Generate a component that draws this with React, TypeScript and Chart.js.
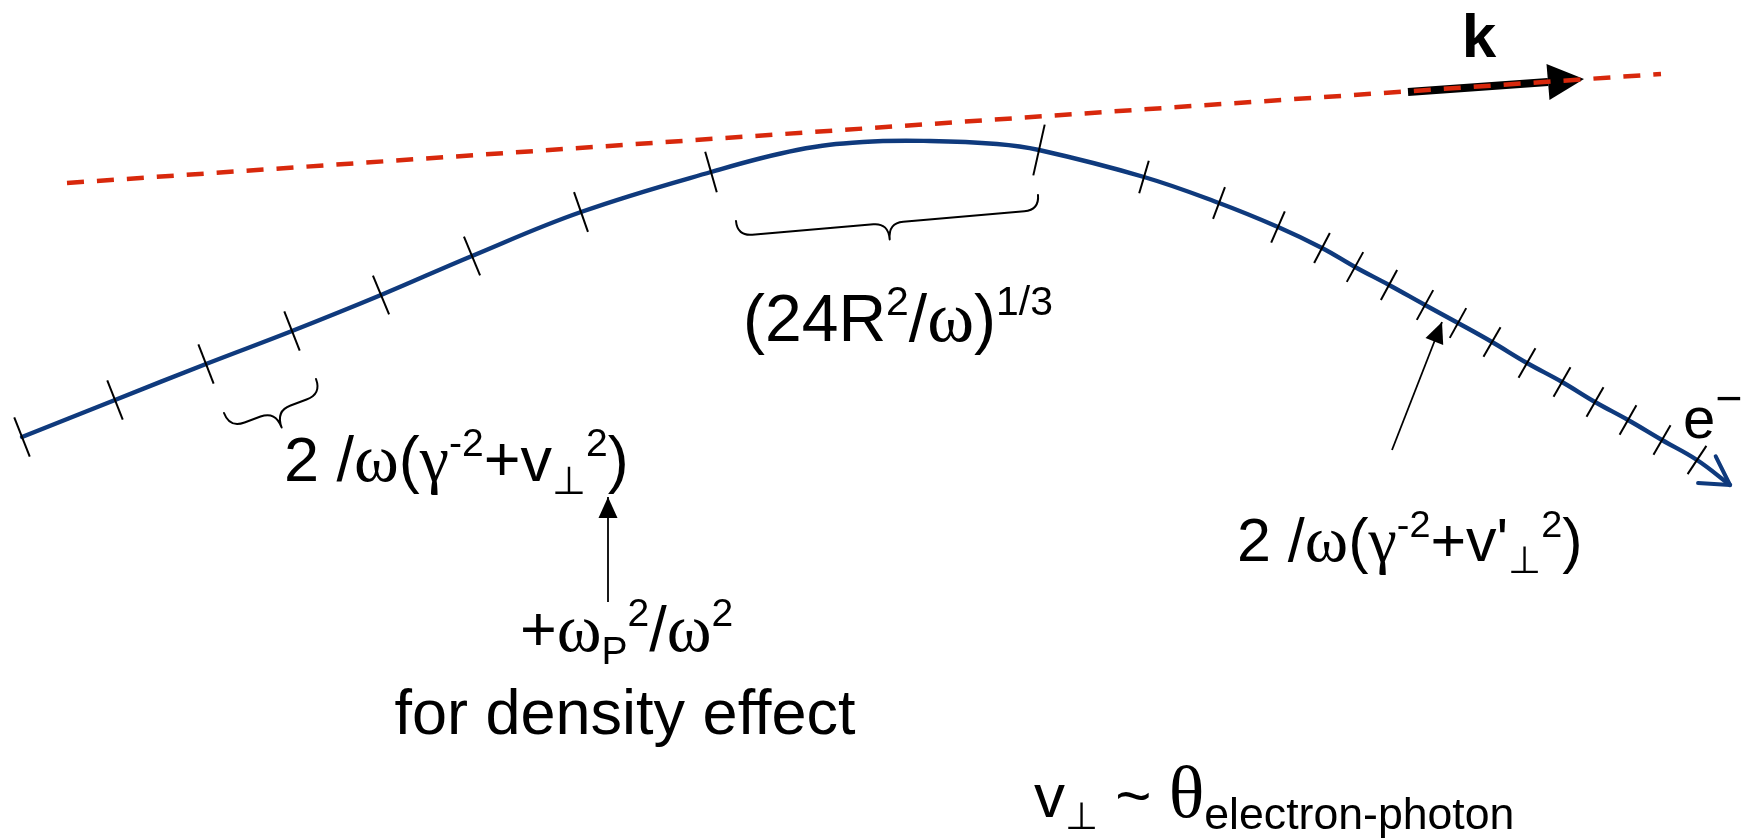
import React, { useEffect, useRef } from "react";
import { Chart, registerables } from "chart.js";

Chart.register(...registerables);

const CANVAS_W = 1744;
const CANVAS_H = 839;

// Electron trajectory (e−): points along the path, x to the right, y downward
const electronX = [22, 115, 206, 292, 381, 472, 581, 711, 797, 863, 930, 997, 1039, 1144, 1219, 1278, 1322, 1355, 1389, 1425, 1458, 1492, 1527, 1562, 1595, 1628, 1662, 1697, 1730];
const electronY = [437, 400, 364, 331, 295, 256, 212, 172, 150, 142, 141, 144, 150, 177, 203, 227, 248, 267, 285, 305, 323, 342, 363, 382, 402, 420, 440, 460, 485];
// 1 = a formation-length tick sits on this point
const electronTick = [1, 1, 1, 1, 1, 1, 1, 1, 0, 0, 0, 0, 1, 1, 1, 1, 1, 1, 1, 1, 1, 1, 1, 1, 1, 1, 1, 1, 0];

// Photon direction k (dashed line)
const photonX = [67, 1661];
const photonY = [183, 74];

// k vector: shaft and arrow tip
const kShaftX = [1408, 1548];
const kShaftY = [92, 82];
const kTip = [1584, 79];

// Braces: from point, to point
const braceFromX = [224, 736];
const braceFromY = [413, 221];
const braceToX = [316, 1038];
const braceToY = [379, 195];

// Annotation arrows: from (tail) to (tip)
const noteFromX = [608, 1392];
const noteFromY = [602, 450];
const noteToX = [608, 1442];
const noteToY = [497, 322];

// Text labels
const labelTexts = [
  "k",
  "(24R²/ω)^1/3",
  "2 /ω(γ^-2+v_⊥^2)",
  "2 /ω(γ^-2+v'_⊥^2)",
  "+ω_P^2/ω^2",
  "for density effect",
  "e^−",
  "v_⊥ ~ θ_electron-photon",
];
const labelX = [1479, 743, 284, 1237, 520, 625, 1683, 1034];
const labelY = [57, 341, 481, 561, 651, 734, 438, 817];

const BLUE = "#0F3A7D";
const RED = "#D8280C";
const SANS = '"Liberation Sans", Arial, Helvetica, sans-serif';
const SERIF = '"Liberation Serif", "Times New Roman", serif';

type Seg = { t: string; f?: "sans" | "serif" | "bold"; s?: number; dy?: number };
const SUP = { s: 0.62, dy: -0.4 };
const SUB = { s: 0.62, dy: 0.2 };
const OMEGA: Seg = { t: "ω", f: "serif", s: 1.08 };

const richLabels: Seg[][] = [
  [{ t: labelTexts[0], f: "bold" }],
  [{ t: "(24R" }, { t: "2", ...SUP }, { t: "/" }, OMEGA, { t: ")" }, { t: "1/3", ...SUP }],
  [{ t: "2 /" }, OMEGA, { t: "(" }, { t: "γ", f: "serif", s: 1.05 }, { t: "-2", ...SUP }, { t: "+v" }, { t: "⊥", ...SUB }, { t: "2", ...SUP }, { t: ")" }],
  [{ t: "2 /" }, OMEGA, { t: "(" }, { t: "γ", f: "serif", s: 1.05 }, { t: "-2", ...SUP }, { t: "+v'" }, { t: "⊥", ...SUB }, { t: "2", ...SUP }, { t: ")" }],
  [{ t: "+" }, OMEGA, { t: "P", ...SUB }, { t: "2", ...SUP }, { t: "/" }, OMEGA, { t: "2", ...SUP }],
  [{ t: labelTexts[5] }],
  [{ t: "e" }, { t: "−", s: 0.8, dy: -0.42 }],
  [{ t: "v" }, { t: "⊥", ...SUB }, { t: " ~ " }, { t: "θ", f: "serif", s: 1.2 }, { t: "electron-photon", s: 0.72, dy: 0.2 }],
];
const labelSize = [62, 66, 63, 61, 63, 63, 58, 62];
const labelAlign: ("left" | "center")[] = ["center", "left", "left", "left", "left", "center", "left", "left"];

function fontFor(f: Seg["f"], size: number) {
  if (f === "serif") return `${size}px ${SERIF}`;
  if (f === "bold") return `bold ${size}px ${SANS}`;
  return `${size}px ${SANS}`;
}

function drawRich(ctx: CanvasRenderingContext2D, segs: Seg[], x: number, y: number, size: number, align: "left" | "center") {
  const parts = segs.map((s) => {
    const font = fontFor(s.f, size * (s.s ?? 1));
    ctx.font = font;
    return { ...s, font, w: ctx.measureText(s.t).width };
  });
  const total = parts.reduce((a, p) => a + p.w, 0);
  let px = align === "center" ? x - total / 2 : x;
  ctx.textAlign = "left";
  ctx.textBaseline = "alphabetic";
  ctx.fillStyle = "#000";
  for (const p of parts) {
    ctx.font = p.font;
    ctx.fillText(p.t, px, y + (p.dy ?? 0) * size);
    px += p.w;
  }
}

function drawBrace(ctx: CanvasRenderingContext2D, x0: number, y0: number, x1: number, y1: number, h: number) {
  const dx = x1 - x0, dy = y1 - y0;
  const L = Math.hypot(dx, dy);
  const ux = dx / L, uy = dy / L;
  const nx = -uy, ny = ux;
  const mx = (x0 + x1) / 2, my = (y0 + y1) / 2;
  const P = (bx: number, by: number, a: number, b: number) => [bx + ux * a + nx * b, by + uy * a + ny * b];
  ctx.beginPath();
  ctx.moveTo(x0, y0);
  let c = P(x0, y0, 0, h), e = P(x0, y0, h, h);
  ctx.quadraticCurveTo(c[0], c[1], e[0], e[1]);
  e = P(mx, my, -h, h);
  ctx.lineTo(e[0], e[1]);
  c = P(mx, my, 0, h); e = P(mx, my, 0, h * 2.1);
  ctx.quadraticCurveTo(c[0], c[1], e[0], e[1]);
  e = P(mx, my, h, h);
  ctx.quadraticCurveTo(c[0], c[1], e[0], e[1]);
  e = P(x1, y1, -h, h);
  ctx.lineTo(e[0], e[1]);
  c = P(x1, y1, 0, h);
  ctx.quadraticCurveTo(c[0], c[1], x1, y1);
  ctx.stroke();
}

const diagramPlugin = {
  id: "diagram",
  beforeDatasetsDraw(chart: any) {
    const { ctx, scales } = chart;
    const sx = scales.x, sy = scales.y;
    // k arrowhead (under the dashed photon line)
    const bx = sx.getPixelForValue(kShaftX[1]), by = sy.getPixelForValue(kShaftY[1]);
    const tx = sx.getPixelForValue(kTip[0]), ty = sy.getPixelForValue(kTip[1]);
    const L = Math.hypot(tx - bx, ty - by);
    const ux = (tx - bx) / L, uy = (ty - by) / L;
    const nx = -uy, ny = ux;
    const hw = 18;
    ctx.save();
    ctx.fillStyle = "#000";
    ctx.beginPath();
    ctx.moveTo(tx, ty);
    ctx.lineTo(bx + nx * hw, by + ny * hw);
    ctx.lineTo(bx - nx * hw, by - ny * hw);
    ctx.closePath();
    ctx.fill();
    ctx.restore();
  },
  afterDatasetsDraw(chart: any) {
    const { ctx, scales } = chart;
    const sx = scales.x, sy = scales.y;
    const px = electronX.map((v) => sx.getPixelForValue(v));
    const py = electronY.map((v) => sy.getPixelForValue(v));
    const n = px.length;
    let peakIdx = 0;
    for (let i = 0; i < n; i++) if (py[i] < py[peakIdx]) peakIdx = i;
    ctx.save();
    // ticks
    ctx.strokeStyle = "#000";
    ctx.lineWidth = 2;
    ctx.lineCap = "butt";
    for (let i = 0; i < n; i++) {
      if (!electronTick[i]) continue;
      const a = Math.max(0, i - 1), b = Math.min(n - 1, i + 1);
      const tx = px[b] - px[a], ty = py[b] - py[a];
      const L = Math.hypot(tx, ty);
      const nx = -ty / L, ny = tx / L;
      let len = i < peakIdx ? 42 : 34;
      if (i > 0 && !electronTick[i - 1]) len = 52;
      ctx.beginPath();
      ctx.moveTo(px[i] - nx * len / 2, py[i] - ny * len / 2);
      ctx.lineTo(px[i] + nx * len / 2, py[i] + ny * len / 2);
      ctx.stroke();
    }
    // electron open arrowhead
    {
      const tx = px[n - 1], ty = py[n - 1];
      const dx = tx - px[n - 3], dy = ty - py[n - 3];
      const L = Math.hypot(dx, dy);
      const ux = dx / L, uy = dy / L;
      const ang = (30 * Math.PI) / 180, len = 32;
      ctx.strokeStyle = BLUE;
      ctx.lineWidth = 4;
      ctx.lineCap = "round";
      ctx.lineJoin = "round";
      ctx.beginPath();
      for (const s of [-1, 1]) {
        const c = Math.cos(ang), si = Math.sin(ang) * s;
        const rx = -(ux * c - uy * si), ry = -(ux * si + uy * c);
        ctx.moveTo(tx + rx * len, ty + ry * len);
        ctx.lineTo(tx, ty);
      }
      ctx.stroke();
    }
    // annotation arrowheads
    ctx.fillStyle = "#000";
    for (let i = 0; i < noteToX.length; i++) {
      const tx = sx.getPixelForValue(noteToX[i]), ty = sy.getPixelForValue(noteToY[i]);
      const fx = sx.getPixelForValue(noteFromX[i]), fy = sy.getPixelForValue(noteFromY[i]);
      const L = Math.hypot(tx - fx, ty - fy);
      const ux = (tx - fx) / L, uy = (ty - fy) / L;
      const nx = -uy, ny = ux;
      const hl = 21, hw = 9.5;
      ctx.beginPath();
      ctx.moveTo(tx, ty);
      ctx.lineTo(tx - ux * hl + nx * hw, ty - uy * hl + ny * hw);
      ctx.lineTo(tx - ux * hl - nx * hw, ty - uy * hl - ny * hw);
      ctx.closePath();
      ctx.fill();
    }
    // braces
    ctx.strokeStyle = "#000";
    ctx.lineWidth = 2;
    ctx.lineCap = "round";
    ctx.lineJoin = "round";
    const depth = [16, 15];
    for (let i = 0; i < braceFromX.length; i++) {
      drawBrace(
        ctx,
        sx.getPixelForValue(braceFromX[i]), sy.getPixelForValue(braceFromY[i]),
        sx.getPixelForValue(braceToX[i]), sy.getPixelForValue(braceToY[i]),
        depth[i]
      );
    }
    ctx.restore();
  },
  afterDraw(chart: any) {
    const { ctx, scales } = chart;
    const sx = scales.x, sy = scales.y;
    ctx.save();
    for (let i = 0; i < richLabels.length; i++) {
      drawRich(ctx, richLabels[i], sx.getPixelForValue(labelX[i]), sy.getPixelForValue(labelY[i]), labelSize[i], labelAlign[i]);
    }
    ctx.restore();
  },
};

const pts = (xs: number[], ys: number[]) => xs.map((x, i) => ({ x, y: ys[i] }));

export default function App() {
  const ref = useRef<HTMLCanvasElement>(null);
  useEffect(() => {
    const chart = new Chart(ref.current as HTMLCanvasElement, {
      type: "scatter",
      data: {
        datasets: [
          {
            label: "photon k",
            data: pts(photonX, photonY),
            showLine: true,
            borderColor: RED,
            borderWidth: 4.5,
            borderDash: [17, 13],
            borderCapStyle: "butt",
            pointRadius: 0,
            tension: 0,
          },
          {
            label: "electron",
            data: pts(electronX, electronY),
            showLine: true,
            borderColor: BLUE,
            borderWidth: 4.4,
            pointRadius: 0,
            tension: 0.4,
            borderCapStyle: "round",
          },
          {
            label: "k vector",
            data: pts(kShaftX, kShaftY),
            showLine: true,
            borderColor: "#000",
            borderWidth: 8,
            borderCapStyle: "butt",
            pointRadius: 0,
            tension: 0,
          },
          {
            label: "note 1",
            data: pts([noteFromX[0], noteToX[0]], [noteFromY[0], noteToY[0]]),
            showLine: true,
            borderColor: "#000",
            borderWidth: 1.8,
            pointRadius: 0,
          },
          {
            label: "note 2",
            data: pts([noteFromX[1], noteToX[1]], [noteFromY[1], noteToY[1]]),
            showLine: true,
            borderColor: "#000",
            borderWidth: 1.8,
            pointRadius: 0,
          },
        ],
      } as any,
      options: {
        animation: false,
        responsive: false,
        maintainAspectRatio: false,
        events: [],
        layout: { padding: 0 },
        plugins: { legend: { display: false }, tooltip: { enabled: false }, title: { display: false } },
        scales: {
          x: { type: "linear", min: 0, max: CANVAS_W, display: false },
          y: { type: "linear", min: 0, max: CANVAS_H, reverse: true, display: false },
        },
      } as any,
      plugins: [diagramPlugin],
    });
    return () => chart.destroy();
  }, []);
  return (
    <div style={{ position: "fixed", left: 0, top: 0, width: CANVAS_W, height: CANVAS_H, background: "#fff" }}>
      <canvas ref={ref} width={CANVAS_W} height={CANVAS_H} style={{ display: "block" }} />
    </div>
  );
}
